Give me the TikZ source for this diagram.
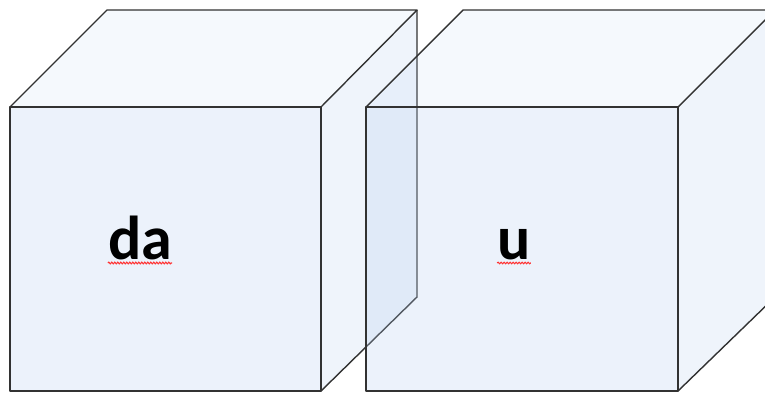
\documentclass[tikz,border=0pt]{standalone}
\usepackage{fontspec}
\setmainfont{Carlito}
\usetikzlibrary{decorations.pathmorphing}
\definecolor{kockafill}{RGB}{180,205,238}
\definecolor{rub}{RGB}{50,50,50}

\begin{document}
\begin{tikzpicture}[x=1pt,y=-1pt,
	sciana/.style={fill=kockafill, fill opacity=#1},
	sciana/.default=0.25,
	krawedz/.style={draw=rub, line width=1.4pt, line join=round},
	podpis/.style={font=\fontsize{62}{66}\selectfont\bfseries, anchor=base, inner sep=0pt},
	falka/.style={draw=red!80, line width=1.1pt, decorate,
		decoration={snake, amplitude=0.8pt, segment length=3pt}}]
	
	% Obszar rysunku
	\useasboundingbox (0,0) rectangle (765,392);
	\clip (0,0) rectangle (765,392);
	
	% Lewa kostka - wierzcholki
	\coordinate (A1) at (10,107);
	\coordinate (A2) at (321,107);
	\coordinate (A3) at (321,391);
	\coordinate (A4) at (10,391);
	\coordinate (B1) at (107,10);
	\coordinate (B2) at (417,10);
	\coordinate (B3) at (417,297);
	
	% Prawa kostka - wierzcholki
	\coordinate (C1) at (366,107);
	\coordinate (C2) at (678,107);
	\coordinate (C3) at (678,391);
	\coordinate (C4) at (366,391);
	\coordinate (D1) at (463,10);
	\coordinate (D2) at (775,10);
	\coordinate (D3) at (775,297);
	
	% Lewa kostka
	\fill[sciana] (A1) -- (A2) -- (A3) -- (A4) -- cycle;
	\fill[sciana=0.13] (A1) -- (B1) -- (B2) -- (A2) -- cycle;
	\fill[sciana=0.22] (A2) -- (B2) -- (B3) -- (A3) -- cycle;
	\draw[krawedz] (A1) -- (A2) -- (A3) -- (A4) -- cycle;
	\draw[krawedz] (A1) -- (B1) -- (B2) -- (A2);
	\draw[krawedz] (B2) -- (B3) -- (A3);
	
	% Prawa kostka
	\fill[sciana] (C1) -- (C2) -- (C3) -- (C4) -- cycle;
	\fill[sciana=0.13] (C1) -- (D1) -- (D2) -- (C2) -- cycle;
	\fill[sciana=0.22] (C2) -- (D2) -- (D3) -- (C3) -- cycle;
	\draw[krawedz] (C1) -- (C2) -- (C3) -- (C4) -- cycle;
	\draw[krawedz] (C1) -- (D1) -- (D2) -- (C2);
	\draw[krawedz] (D2) -- (D3) -- (C3);
	
	% Napisy
	\node[podpis] (da) at (140,259) {da};
	\node[podpis] (u) at (514,259) {u};
	
	% Podkreslenia
	\draw[falka] ([yshift=-4pt]da.base west) -- ([yshift=-4pt]da.base east);
	\draw[falka] ([yshift=-4pt]u.base west) -- ([yshift=-4pt]u.base east);
\end{tikzpicture}
\end{document}
